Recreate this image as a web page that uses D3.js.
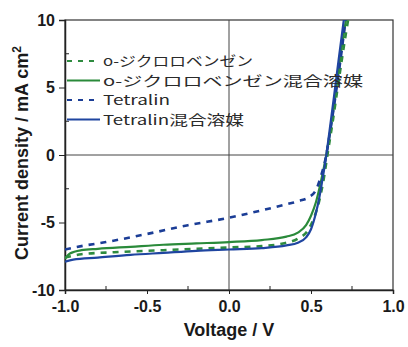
<!DOCTYPE html>
<html>
<head>
<meta charset="utf-8">
<script src="https://cdn.jsdelivr.net/npm/d3@7"></script>
<style>
  body{margin:0;background:#fff;}
  .tick text{font-family:"Liberation Sans",Arial,sans-serif;font-weight:bold;font-size:16px;fill:#1a1a1a;}
</style>
</head>
<body>
<svg></svg>
<script>
// series: [voltage, current density]
var oDcb = [[-1,-7.6],[-0.9,-7.35],[-0.7,-7.2],[-0.4,-7.05],[-0.2,-6.95],[0,-6.85],[0.2,-6.75],[0.33,-6.55],[0.42,-6.2],[0.48,-5.6],[0.52,-4.6],[0.55,-3.4],[0.58,-1.6],[0.6,0],[0.63,2.3],[0.67,5.6],[0.71,8.8],[0.74,11]];
var oDcbMix = [[-1,-7.7],[-0.97,-7.3],[-0.9,-7.05],[-0.8,-6.95],[-0.6,-6.8],[-0.4,-6.65],[-0.2,-6.55],[0,-6.45],[0.2,-6.3],[0.35,-6.05],[0.42,-5.75],[0.47,-5.2],[0.5,-4.5],[0.53,-3.5],[0.56,-2.0],[0.59,-0.2],[0.62,2.0],[0.66,5.5],[0.69,8.2],[0.72,10.5]];
var tetralin = [[-1,-7.0],[-0.9,-6.75],[-0.75,-6.45],[-0.5,-5.85],[-0.25,-5.2],[0,-4.65],[0.2,-4.1],[0.35,-3.65],[0.43,-3.4],[0.49,-3.1],[0.53,-2.6],[0.56,-1.6],[0.59,-0.2],[0.62,2.0],[0.66,5.3],[0.69,8.0],[0.71,10]];
var tetralinMix = [[-1,-7.9],[-0.95,-7.75],[-0.8,-7.6],[-0.6,-7.4],[-0.4,-7.25],[-0.2,-7.1],[0,-7.0],[0.2,-6.9],[0.35,-6.7],[0.42,-6.5],[0.47,-6.1],[0.5,-5.5],[0.53,-4.3],[0.55,-3.2],[0.57,-1.8],[0.59,-0.3],[0.61,1.5],[0.64,4.3],[0.67,7.2],[0.70,10]];

var names = ["o-ジクロロベンゼン","o-ジクロロベンゼン混合溶媒","Tetralin","Tetralin混合溶媒"];
var colors = ["#2e8b3f","#2a8a3a","#1b3d96","#1f45a0"];
var dashed = [true,false,true,false];
var allSeries = [oDcb,oDcbMix,tetralin,tetralinMix];

var xTicks = [-1,-0.5,0,0.5,1];
var yTicks = [-10,-5,0,5,10];

var width = 408, height = 347;
var margins = {left:65,right:15,top:20,bot:57};

var svg = d3.select("svg").attr("width",width).attr("height",height);

var xScale = d3.scaleLinear().domain([-1,1]).range([margins.left,width-margins.right]);
var yScale = d3.scaleLinear().domain([-10,10]).range([height-margins.bot,margins.top]);

svg.append("defs").append("clipPath").attr("id","clip")
    .append("rect")
    .attr("x",margins.left).attr("y",margins.top)
    .attr("width",width-margins.right-margins.left)
    .attr("height",height-margins.bot-margins.top);

// frame and zero lines
svg.append("rect")
   .attr("x",margins.left).attr("y",margins.top)
   .attr("width",width-margins.right-margins.left)
   .attr("height",height-margins.bot-margins.top)
   .attr("fill","none").attr("stroke","#333").attr("stroke-width",1.2);
svg.append("line")
   .attr("x1",xScale(0)).attr("x2",xScale(0))
   .attr("y1",yScale(10)).attr("y2",yScale(-10))
   .attr("stroke","#444").attr("stroke-width",1);
svg.append("line")
   .attr("x1",xScale(-1)).attr("x2",xScale(1))
   .attr("y1",yScale(0)).attr("y2",yScale(0))
   .attr("stroke","#444").attr("stroke-width",1);

// axes
var xAxis = d3.axisBottom(xScale).tickValues(xTicks).tickSize(4).tickPadding(7);
var yAxis = d3.axisLeft(yScale).tickValues(yTicks).tickSize(6).tickPadding(4);

var gx = svg.append("g")
   .attr("transform","translate(0,"+(height-margins.bot)+")")
   .call(xAxis);
gx.select(".domain").attr("stroke","#222").attr("stroke-width",1.5);
gx.selectAll(".tick line").attr("stroke","#222");
gx.selectAll(".tick text").text(function(d){return d3.format(".1f")(d).replace("−","-");});

var gy = svg.append("g")
   .attr("transform","translate("+margins.left+",0)")
   .call(yAxis);
gy.select(".domain").attr("stroke","#222").attr("stroke-width",1.5);
gy.selectAll(".tick line").attr("stroke","#222");
gy.selectAll(".tick text").text(function(d){return String(d).replace("−","-");});

// minor ticks, inward
var xMinor = [-0.75,-0.25,0.25,0.75];
svg.append("g").selectAll("line").data(xMinor).enter().append("line")
   .attr("x1",function(d){return xScale(d);}).attr("x2",function(d){return xScale(d);})
   .attr("y1",yScale(-10)).attr("y2",yScale(-10)-4)
   .attr("stroke","#222");
var yMinor = [-7.5,-2.5,2.5,7.5];
svg.append("g").selectAll("line").data(yMinor).enter().append("line")
   .attr("x1",xScale(-1)).attr("x2",xScale(-1)+4)
   .attr("y1",function(d){return yScale(d);}).attr("y2",function(d){return yScale(d);})
   .attr("stroke","#222");

// curves
var line = d3.line()
   .x(function(d){return xScale(d[0]);})
   .y(function(d){return yScale(d[1]);})
   .curve(d3.curveMonotoneX);

var order = [1,0,2,3];
order.forEach(function(i){
  svg.append("path")
     .attr("clip-path","url(#clip)")
     .attr("d",line(allSeries[i]))
     .attr("fill","none")
     .attr("stroke",colors[i])
     .attr("stroke-width",dashed[i]?2.6:2.2)
     .attr("stroke-dasharray",dashed[i]?"6,6":null);
});

// legend (text widths stretched to match the original's spacing)
var legendWidths = [150,260,67,141];
var legend = svg.append("g");
names.forEach(function(n,i){
  var y = 61 + i*19.5;
  legend.append("line")
    .attr("x1",67).attr("x2",100)
    .attr("y1",y).attr("y2",y)
    .attr("stroke",colors[i])
    .attr("stroke-width",2.2)
    .attr("stroke-dasharray",dashed[i]?"5,6":null);
  legend.append("text")
    .attr("x",103).attr("y",y+5)
    .attr("font-family","'Noto Sans CJK JP',sans-serif")
    .attr("font-size",13.5)
    .attr("textLength",legendWidths[i])
    .attr("lengthAdjust","spacingAndGlyphs")
    .attr("fill","#2a2a2a")
    .text(n);
});

// axis titles
svg.append("text")
   .attr("x",(margins.left+width-margins.right)/2)
   .attr("y",336)
   .attr("text-anchor","middle")
   .attr("font-family","'Liberation Sans',Arial,sans-serif")
   .attr("font-weight","bold")
   .attr("font-size",18)
   .attr("fill","#1a1a1a")
   .text("Voltage / V");

svg.append("text")
   .attr("transform","translate(28,"+(yScale(0)-2)+") rotate(-90)")
   .attr("text-anchor","middle")
   .attr("font-family","'Liberation Sans',Arial,sans-serif")
   .attr("font-weight","bold")
   .attr("font-size",18)
   .attr("fill","#1a1a1a")
   .html("Current density / mA cm<tspan dy='-7' font-size='12'>2</tspan>");
</script>
</body>
</html>
